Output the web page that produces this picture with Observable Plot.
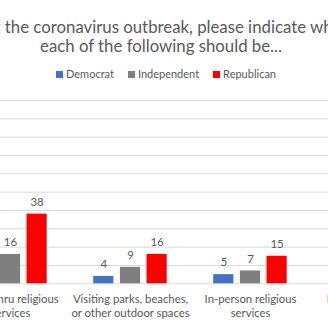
<!DOCTYPE html>
<html><head><meta charset="utf-8">
<script src="https://cdn.jsdelivr.net/npm/d3@7"></script>
<script src="https://cdn.jsdelivr.net/npm/@observablehq/plot@0.6"></script>
<style>
html,body{margin:0;padding:0;background:#fff;}
#wrap{position:relative;width:328px;height:328px;overflow:hidden;font-family:Lato,"Open Sans",sans-serif;color:#595959;background:#fff;}
#title{position:absolute;left:-200px;width:722px;top:16.5px;text-align:center;font-size:16.8px;line-height:19px;white-space:nowrap;}
#legend{position:absolute;left:-134px;width:600px;top:67px;display:flex;justify-content:center;gap:14px;font-size:11px;line-height:14px;white-space:nowrap;}
#legend span.sw{display:inline-block;width:7px;height:7px;margin-right:3px;vertical-align:0px;}
#chart{position:absolute;left:-52.1px;top:90px;width:483px;}
#chart svg{max-width:none;}
</style></head>
<body>
<div id="wrap">
  <div id="title"></div>
  <div id="legend"></div>
  <div id="chart"></div>
</div>
<script>
const titleLines = ["During the coronavirus outbreak, please indicate whether", "each of the following should be..."];
const categories = ["Drive-thru religious services", "Visiting parks, beaches, or other outdoor spaces", "In-person religious services", "In-person schools"];
const categoryLabels = ["Drive-thru religious\nservices", "Visiting parks, beaches,\nor other outdoor spaces", "In-person religious\nservices", "In-person schools\n"];
const seriesNames = ["Democrat", "Independent", "Republican"];
const seriesColors = ["#4472C4", "#7F7F7F", "#FF0000"];
const democrat = [null, 4, 5, null];
const independent = [16, 9, 7, null];
const republican = [38, 16, 15, null];
const yTicks = [0, 10, 20, 30, 40, 50, 60, 70, 80, 90, 100];

document.getElementById("title").innerHTML = titleLines.map(t => `<div>${t}</div>`).join("");
document.getElementById("legend").innerHTML = seriesNames.map((n, i) =>
  `<span><span class="sw" style="background:${seriesColors[i]}"></span>${n}</span>`).join("");

const table = categories.map((c, i) => ({category: c, Democrat: democrat[i], Independent: independent[i], Republican: republican[i]}));
const labelOf = new Map(categories.map((c, i) => [c, categoryLabels[i]]));
const offsets = [-26.7, 0, 26.6];
const inset = 49.9;

const marks = [Plot.gridY(yTicks, {stroke: "#d9d9d9", strokeOpacity: 1, strokeWidth: 1})];
seriesNames.forEach((s, i) => {
  const rows = table.filter(d => d[s] != null);
  marks.push(Plot.barY(rows, {x: "category", y: s, fill: seriesColors[i], dx: offsets[i], insetLeft: inset, insetRight: inset}));
  marks.push(Plot.text(rows, {x: "category", y: s, text: d => String(d[s]), dx: offsets[i], dy: -12, fill: "#595959", fontSize: 11.5}));
});
marks.push(Plot.axisX({tickSize: 0, tickPadding: 8.5, tickFormat: d => labelOf.get(d), fontSize: 11.3, lineHeight: 1.27, fill: "#595959", label: null}));

const chart = Plot.plot({
  width: 483,
  height: 240,
  marginTop: 10,
  marginBottom: 46.7,
  marginLeft: 0,
  marginRight: 0,
  x: {domain: categories, padding: 0, axis: null},
  y: {domain: [0, 100], axis: null},
  style: {fontFamily: "Lato, 'Open Sans', sans-serif", color: "#595959", background: "transparent", maxWidth: "none"},
  marks
});
document.getElementById("chart").appendChild(chart);
</script>
</body></html>
